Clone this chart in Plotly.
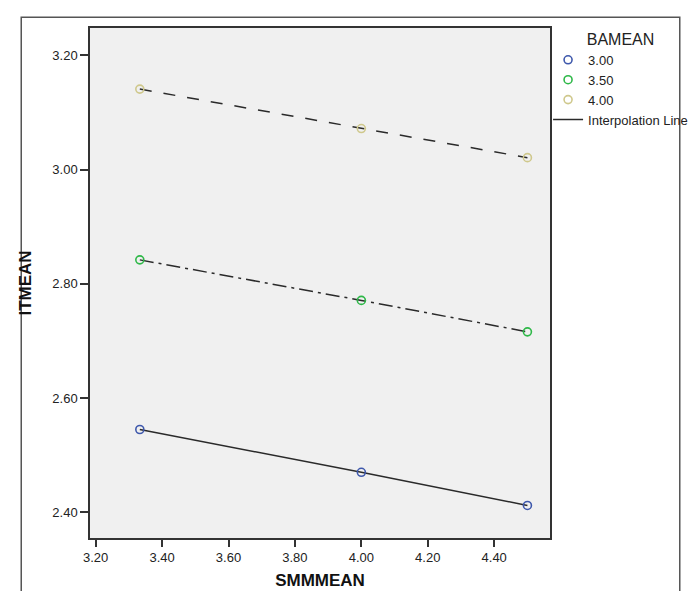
import plotly.graph_objects as go

# Data
smm_mean = [3.333, 4.00, 4.50]
groups = ["3.00", "3.50", "4.00"]
it_mean = {
    "3.00": [2.545, 2.470, 2.412],
    "3.50": [2.842, 2.771, 2.716],
    "4.00": [3.141, 3.072, 3.021],
}
x_ticks = [3.20, 3.40, 3.60, 3.80, 4.00, 4.20, 4.40]
y_ticks = [2.40, 2.60, 2.80, 3.00, 3.20]

colors = {"3.00": "#3E58AC", "3.50": "#2EB848", "4.00": "#CFC88C"}
dashes = {"3.00": "solid", "3.50": "14px,5px,3px,5px", "4.00": "12px,12px"}
line_col = "#2a2a2a"

fig = go.Figure()

# interpolation lines
for g in groups:
    fig.add_trace(go.Scatter(
        x=smm_mean, y=it_mean[g], mode="lines",
        line=dict(color=line_col, width=1.5, dash=dashes[g]),
        showlegend=False, hoverinfo="skip"))

# markers
for g in groups:
    fig.add_trace(go.Scatter(
        x=smm_mean, y=it_mean[g], mode="markers", name=g,
        marker=dict(symbol="circle-open", size=8, color=colors[g],
                    line=dict(width=1.6, color=colors[g]))))

# legend entry for interpolation line
fig.add_trace(go.Scatter(
    x=[None], y=[None], mode="lines", name="Interpolation Line",
    line=dict(color=line_col, width=1.5)))

FONT = "Liberation Sans, Arial, sans-serif"
axis_common = dict(
    showgrid=False, zeroline=False, showline=True, linecolor="#333333",
    linewidth=1.5, mirror=True, ticks="outside", tickcolor="#333333",
    tickwidth=1.5, fixedrange=True,
    tickfont=dict(family=FONT, size=13, color="#222222"),
)

fig.update_xaxes(
    range=[3.183, 4.568], tickvals=x_ticks,
    ticktext=[f"{v:.2f}" for v in x_ticks], ticklen=7,
    title=dict(text="<b>SMMMEAN</b>", standoff=10,
               font=dict(family=FONT, size=17, color="#111111")),
    **axis_common)
fig.update_yaxes(
    range=[2.355, 3.248], tickvals=y_ticks,
    ticktext=[f"{v:.2f}" for v in y_ticks], ticklen=8,
    title=dict(text="<b>ITMEAN</b>", standoff=16,
               font=dict(family=FONT, size=17, color="#111111")),
    **axis_common)

W, H = 697, 591
L, R, T, B = 82, 140, 20, 54
pw, ph = W - L - R, H - T - B

# outer frame (SPSS chart border)
fig.add_shape(type="rect", xref="paper", yref="paper",
              x0=(11 - L) / pw, x1=(691 - L) / pw,
              y0=-0.3, y1=1 + (T - 9) / ph,
              line=dict(color="#555555", width=1.5), layer="below")

fig.update_layout(
    width=W, height=H,
    margin=dict(l=L, r=R, t=T, b=B),
    paper_bgcolor="white",
    plot_bgcolor="#F0F0F0",
    font=dict(family=FONT, color="#222222"),
    legend=dict(
        title=dict(text="BAMEAN", side="top center",
                   font=dict(size=16, color="#222222")),
        font=dict(size=13, color="#222222"),
        x=(555 - L) / pw, xanchor="left",
        y=1 - (16 - T) / ph, yanchor="top",
        bgcolor="rgba(0,0,0,0)", borderwidth=0,
        tracegroupgap=0,
    ),
)

fig.write_html("out.html")
